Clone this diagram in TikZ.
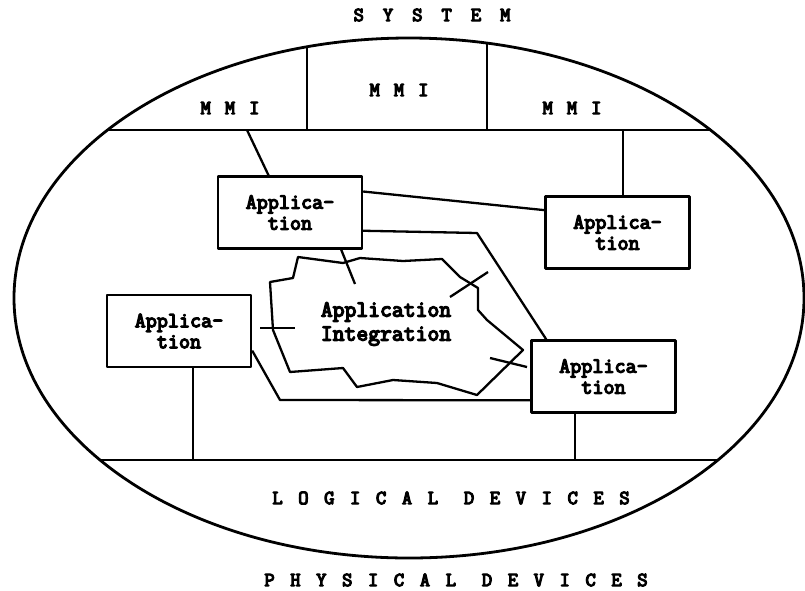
\documentclass[tikz,border=0pt]{standalone}
\usepackage{fontspec}
\setmonofont{Latin Modern Mono}[FakeBold=6]
\tikzset{
  app/.style={draw,line width=2.4pt,minimum width=144pt,minimum height=72pt,inner sep=0pt,align=center,font=\ttfamily\fontsize{21.5}{21}\selectfont},
  cloudtxt/.style={align=center,inner sep=0pt,font=\ttfamily\fontsize{23}{24}\selectfont},
  caps/.style={inner sep=0pt,font=\ttfamily\fontsize{20}{22}\selectfont\addfontfeature{LetterSpace=#1}},
  caps/.default=78
}
\begin{document}
\begin{tikzpicture}[x=1pt,y=-1pt,line width=2.3pt,line join=round]
\useasboundingbox (0,0) rectangle (805,590);
% system boundary and layer lines
\draw[line width=2.8pt] (409,298) ellipse [x radius=395pt,y radius=260pt];
\begin{scope}
  \clip (409,298) ellipse [x radius=395pt,y radius=260pt];
  \draw (0,130)--(805,130) (0,460)--(805,460);
  \draw (307,0)--(307,130) (487,0)--(487,130);
\end{scope}
\node[caps=95] (sys) at (432,15) {SYSTEM};
\node[caps=70] (mmi1) at (230,108) {MMI};
\node[caps=70] (mmi2) at (399,90) {MMI};
\node[caps=70] (mmi3) at (572,108) {MMI};
\node[caps] (logdev) at (451,498) {LOGICAL DEVICES};
\node[caps] (phydev) at (456,580) {PHYSICAL DEVICES};
% applications
\node[app] (app1) at (290,212.5) {Applica-\\tion};
\node[app] (app2) at (617.5,232.5) {Applica-\\tion};
\node[app] (app3) at (179,331) {Applica-\\tion};
\node[app] (app4) at (603.5,376.5) {Applica-\\tion};
% integration cloud
\draw (298,257)--(343,263)--(360,258)--(403,261)--(442,259)--(460,277)--(478,288)--(478,310)
  --(487,320)--(523,350)--(477,395)--(437,383)--(393,380)--(357,387)--(343,368)--(290,372)
  --(273,330)--(270,282)--(293,278)--cycle;
\node[cloudtxt] (integ) at (386,324) {Application\\Integration};
% links
\coordinate (m1) at (247,130);
\coordinate (m3) at (623,130);
\coordinate (d1) at (193,460);
\coordinate (d4) at (575,460);
\draw (m1) -- (app1.120);
\draw (m3) -- (m3 |- app2.north);
\draw (app3.south -| d1) -- (d1);
\draw (app4.south -| d4) -- (d4);
\draw (app1.16) -- (app2.163);
\draw (app1.-14) -- (477,233) -- (app4.147);
\draw (app4.198) -- (280,400) -- (app3.-15);
% interface ticks
\draw (app1.-36) -- (355,284);
\draw (260,328) -- (295,328);
\draw (450,297) -- (488,272);
\draw (490,358) -- (527,367);
\end{tikzpicture}
\end{document}
